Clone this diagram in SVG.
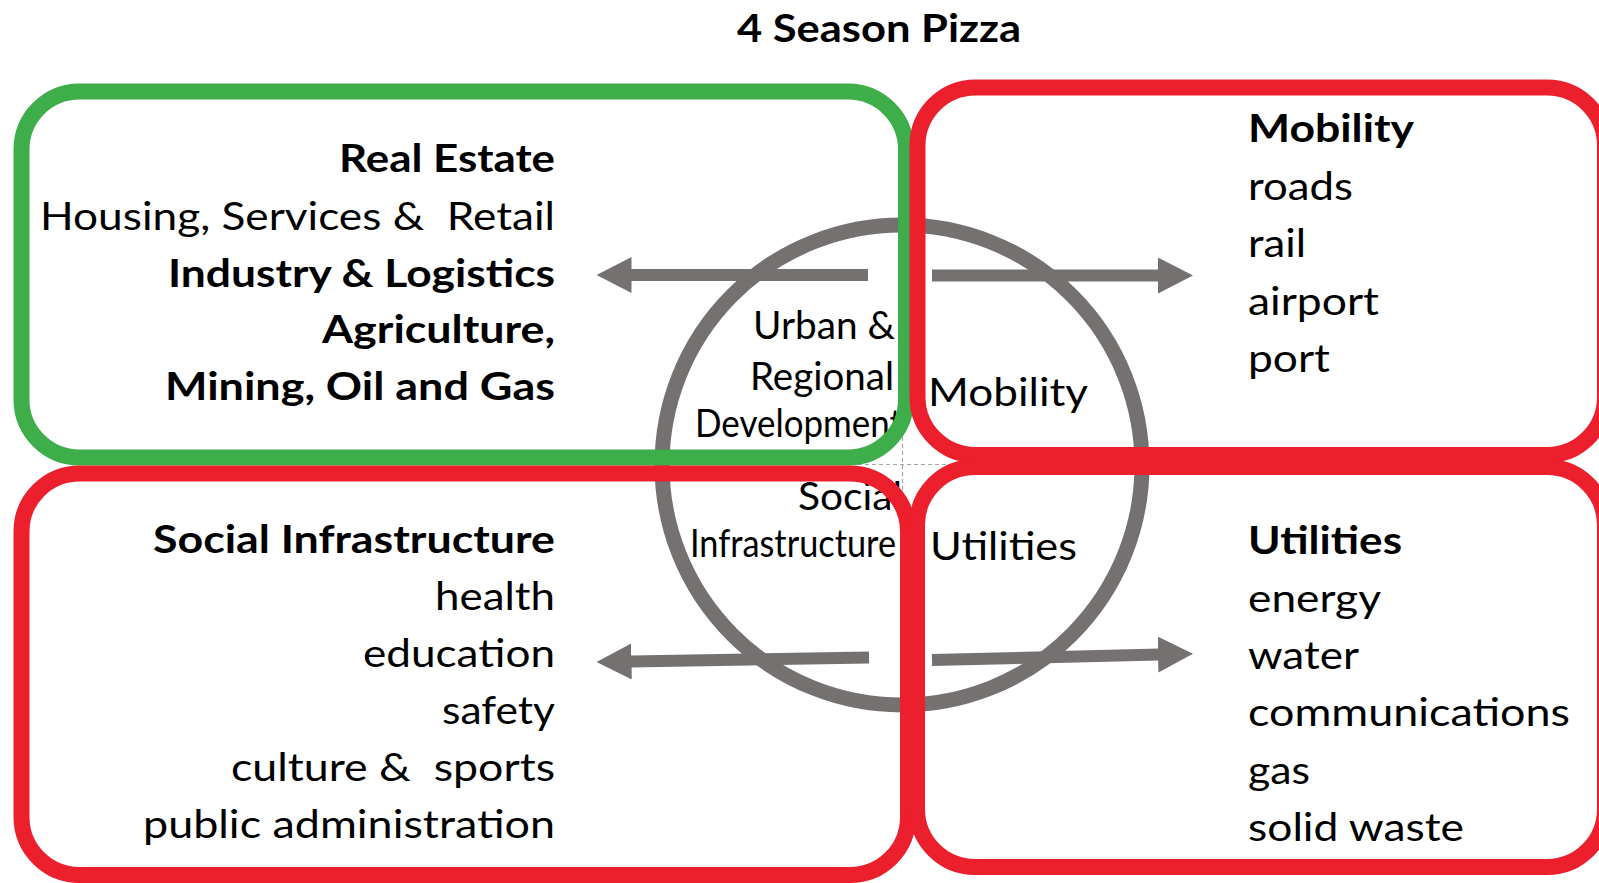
<svg xmlns="http://www.w3.org/2000/svg" width="1599" height="883" viewBox="0 0 1599 883">
<defs>
<marker id="ah" markerUnits="userSpaceOnUse" viewBox="0 0 35 36" refX="1" refY="18" markerWidth="35" markerHeight="36" orient="auto"><path d="M0,0 L35,18 L0,36 Z" fill="#767171"/></marker>
<style>
.t{font-family:Lato,"Open Sans","Liberation Sans",sans-serif;fill:#000;font-size:39px}
.b{font-weight:bold}
.e{text-anchor:end}
.box{fill:none;stroke-width:16}
.g{stroke:#3DAE4A}
.r{stroke:#EC1F2D}
.arr{stroke:#767171;stroke-width:12;fill:none;marker-end:url(#ah)}
</style>
</defs>
<rect width="1599" height="883" fill="#fff"/>
<text id="title" class="t b" x="737" y="42" font-size="40" textLength="284" lengthAdjust="spacingAndGlyphs">4 Season Pizza</text>

<g id="hub">
<circle cx="902" cy="465" r="240" fill="none" stroke="#767171" stroke-width="15"/>
<path d="M858,464.5H946M902.5,416V510" stroke="#A6A6A6" stroke-width="1.2" stroke-dasharray="4,3" fill="none"/>
<text class="t" x="753" y="339" font-size="35" textLength="142" lengthAdjust="spacingAndGlyphs">Urban &amp;</text>
<text class="t" x="750" y="390" font-size="35" textLength="144" lengthAdjust="spacingAndGlyphs">Regional</text>
<text class="t" x="695" y="437" font-size="29" textLength="207" lengthAdjust="spacingAndGlyphs">Development</text>
<text class="t" x="798" y="510" font-size="35" textLength="104" lengthAdjust="spacingAndGlyphs">Social</text>
<text class="t" x="690" y="557" font-size="30" textLength="206" lengthAdjust="spacingAndGlyphs">Infrastructure</text>
<text class="t" x="928" y="406" textLength="160" lengthAdjust="spacingAndGlyphs">Mobility</text>
<text class="t" x="930" y="560" textLength="147" lengthAdjust="spacingAndGlyphs">Utilities</text>
</g>

<g id="connectors">
<path class="arr" d="M868,275H630.5"/>
<path class="arr" d="M932,275.5H1159"/>
<path class="arr" d="M869,657.5L630.5,661.5"/>
<path class="arr" d="M932,660L1159,654.5"/>
</g>

<g id="real-estate">
<rect class="box g" x="21.5" y="91.5" width="884.5" height="366" rx="58"/>
<text class="t b e" x="555" y="172" textLength="216" lengthAdjust="spacingAndGlyphs">Real Estate</text>
<text class="t e" x="555" y="229.5" xml:space="preserve" textLength="515" lengthAdjust="spacingAndGlyphs">Housing, Services &amp;  Retail</text>
<text class="t b e" x="555" y="286.5" textLength="387" lengthAdjust="spacingAndGlyphs">Industry &amp; Logistics</text>
<text class="t b e" x="555" y="343" textLength="233" lengthAdjust="spacingAndGlyphs">Agriculture,</text>
<text class="t b e" x="555" y="400" textLength="390" lengthAdjust="spacingAndGlyphs">Mining, Oil and Gas</text>
</g>

<g id="mobility">
<rect class="box r" x="917.5" y="87.5" width="687.5" height="367.5" rx="58"/>
<text class="t b" x="1248" y="142" textLength="166" lengthAdjust="spacingAndGlyphs">Mobility</text>
<text class="t" x="1248" y="199.5" textLength="105" lengthAdjust="spacingAndGlyphs">roads</text>
<text class="t" x="1248" y="257" textLength="58" lengthAdjust="spacingAndGlyphs">rail</text>
<text class="t" x="1248" y="314.5" textLength="131" lengthAdjust="spacingAndGlyphs">airport</text>
<text class="t" x="1248" y="372" textLength="82" lengthAdjust="spacingAndGlyphs">port</text>
</g>

<g id="social-infrastructure">
<rect class="box r" x="21.5" y="473.5" width="886.5" height="401.5" rx="58"/>
<text class="t b e" x="555" y="553" textLength="402" lengthAdjust="spacingAndGlyphs">Social Infrastructure</text>
<text class="t e" x="555" y="610" textLength="120" lengthAdjust="spacingAndGlyphs">health</text>
<text class="t e" x="555" y="667" textLength="192" lengthAdjust="spacingAndGlyphs">education</text>
<text class="t e" x="555" y="724" textLength="113" lengthAdjust="spacingAndGlyphs">safety</text>
<text class="t e" x="555" y="781" xml:space="preserve" textLength="324" lengthAdjust="spacingAndGlyphs">culture &amp;  sports</text>
<text class="t e" x="555" y="838" textLength="412" lengthAdjust="spacingAndGlyphs">public administration</text>
</g>

<g id="utilities">
<rect class="box r" x="917" y="467" width="688" height="400" rx="58"/>
<text class="t b" x="1248" y="554" textLength="154" lengthAdjust="spacingAndGlyphs">Utilities</text>
<text class="t" x="1248" y="611.5" textLength="133" lengthAdjust="spacingAndGlyphs">energy</text>
<text class="t" x="1248" y="669" textLength="111" lengthAdjust="spacingAndGlyphs">water</text>
<text class="t" x="1248" y="726" textLength="322" lengthAdjust="spacingAndGlyphs">communications</text>
<text class="t" x="1248" y="783.5" textLength="62" lengthAdjust="spacingAndGlyphs">gas</text>
<text class="t" x="1248" y="841" textLength="216" lengthAdjust="spacingAndGlyphs">solid waste</text>
</g>
</svg>
